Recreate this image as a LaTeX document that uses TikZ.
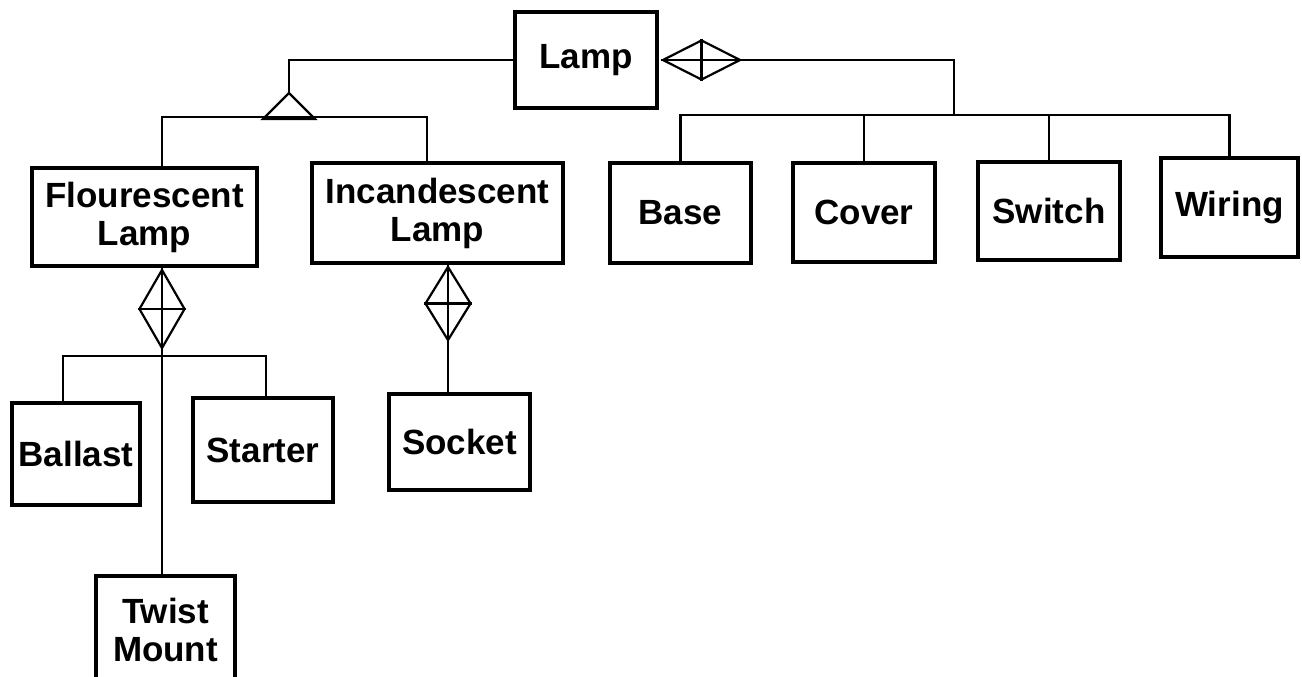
\documentclass[tikz,border=0pt]{standalone}
\usepackage{fontspec}
\setmainfont{Liberation Sans}
\usetikzlibrary{shapes.geometric,calc}
\tikzset{
  cls/.style={draw, line width=2.4pt, align=center, inner sep=0pt, font=\bfseries\fontsize{17.5}{19}\selectfont},
  link/.style={line width=1.1pt},
  agg/.style={draw, diamond, inner sep=0pt, line width=1.1pt},
}

\begin{document}
\begin{tikzpicture}[x=0.5pt,y=-0.5pt]
  \clip (0,0) rectangle (1302,676);
  \fill[white] (0,0) rectangle (1302,676);
  % classes
  \node[cls, minimum width=71pt, minimum height=48pt] (lamp) at (586,60) {Lamp};
  \node[cls, minimum width=112.5pt, minimum height=49pt] (fl) at (144.5,217) {Flourescent\\Lamp};
  \node[cls, minimum width=125.5pt, minimum height=50pt] (inc) at (437.5,213) {Incandescent\\Lamp};
  \node[cls, minimum width=70.5pt, minimum height=50pt] (base) at (680.5,213) {Base};
  \node[cls, minimum width=71pt, minimum height=49.5pt] (cover) at (864,212.5) {Cover};
  \node[cls, minimum width=71pt, minimum height=49pt] (switch) at (1049,211) {Switch};
  \node[cls, minimum width=68.5pt, minimum height=49.5pt] (wiring) at (1229.5,207.5) {Wiring};
  \node[cls, minimum width=64pt, minimum height=51pt] (ballast) at (76,454) {Ballast};
  \node[cls, minimum width=70pt, minimum height=52pt] (starter) at (263,450) {Starter};
  \node[cls, minimum width=70.5pt, minimum height=48pt] (socket) at (459.5,442) {Socket};
  \node[cls, minimum width=69.5pt, minimum height=54pt] (twist) at (165.5,630) {Twist\\Mount};
  % kinds of lamp
  \coordinate (gtip) at (289,93);
  \draw[link] (lamp.west) -| (gtip);
  \draw[link] (gtip) -- ++(-26,26) -- ++(52,0) -- cycle;
  \draw[link] ([xshift=8.75pt]fl.north) -- ++(0,-49) -| ([xshift=-5.25pt]inc.north);
  % parts of lamp
  \node[agg, minimum width=39pt, minimum height=20pt, anchor=west] (dlamp) at ([xshift=1pt]lamp.east) {};
  \draw[link] (dlamp.west) -- (dlamp.east);
  \draw[link] (dlamp.north) -- (dlamp.south);
  \coordinate (pbus) at (954,115);
  \draw[link] (dlamp.east) -| (pbus);
  \draw[link] (base.north) -- (base.north |- pbus) -| (wiring.north);
  \draw[link] (cover.north) -- (cover.north |- pbus);
  \draw[link] (switch.north) -- (switch.north |- pbus);
  % parts of flourescent lamp
  \node[agg, minimum width=23pt, minimum height=39.5pt, anchor=north] (dfl) at ([xshift=8.75pt]fl.south) {};
  \draw[link] (dfl.west) -- (dfl.east);
  \draw[link] (dfl.north) -- (dfl.south);
  \coordinate (fbus) at ($(dfl.south)+(0,6)$);
  \draw[link] (dfl.south) -- (dfl.south |- twist.north);
  \draw[link] ([xshift=-6.5pt]ballast.north) |- (fbus) -| ([xshift=1.5pt]starter.north);
  % parts of incandescent lamp
  \node[agg, minimum width=23pt, minimum height=37pt, anchor=north] (dinc) at ([xshift=5.25pt]inc.south) {};
  \draw[link] (dinc.west) -- (dinc.east);
  \draw[link] (dinc.north) -- (dinc.south);
  \draw[link] (dinc.south) -- (dinc.south |- socket.north);
\end{tikzpicture}
\end{document}
